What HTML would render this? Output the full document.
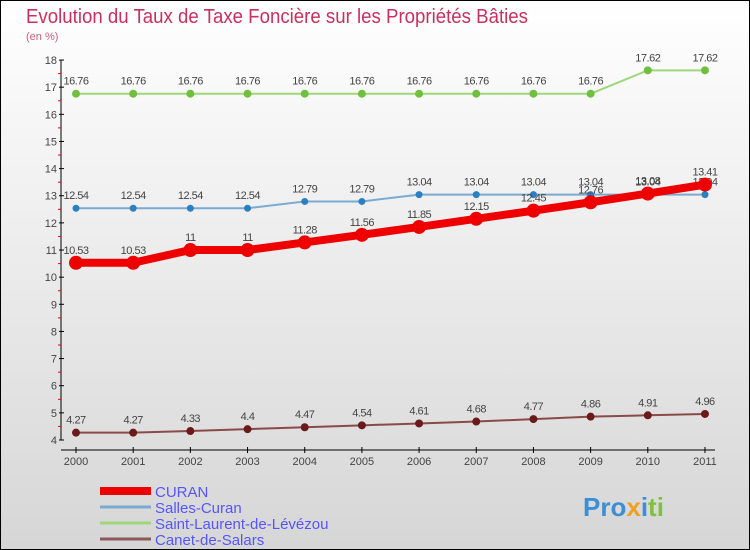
<!DOCTYPE html>
<html><head><meta charset="utf-8"><style>
body{margin:0;width:750px;height:550px;overflow:hidden}
svg{display:block;font-family:"Liberation Sans","DejaVu Sans",sans-serif}
</style></head><body>
<svg id="chart" width="750" height="550" viewBox="0 0 750 550">
<defs><linearGradient id="bg" x1="0" y1="0" x2="0" y2="1"><stop offset="0" stop-color="#ffffff"/><stop offset="1" stop-color="#d6d6d6"/></linearGradient></defs>
<rect x="0.5" y="0.5" width="749" height="549" fill="url(#bg)" stroke="#000"/>
<text x="26" y="23" font-size="20" fill="#c8305e" textLength="502" lengthAdjust="spacingAndGlyphs">Evolution du Taux de Taxe Foncière sur les Propriétés Bâties</text>
<text x="26" y="40" font-size="11" fill="#c8607e">(en %)</text>
<g id="axes"></g><g id="series"></g><g id="legend"></g>
<text x="583" y="516" font-size="26" font-weight="bold"><tspan fill="#3a8fd6">Pro</tspan><tspan fill="#f0a020">x</tspan><tspan fill="#3a8fd6">i</tspan><tspan fill="#80c040">ti</tspan></text>
</svg>
<script>
const years=[2000,2001,2002,2003,2004,2005,2006,2007,2008,2009,2010,2011];
const curan=[10.53,10.53,11,11,11.28,11.56,11.85,12.15,12.45,12.76,13.08,13.41];
const salles=[12.54,12.54,12.54,12.54,12.79,12.79,13.04,13.04,13.04,13.04,13.04,13.04];
const stlaurent=[16.76,16.76,16.76,16.76,16.76,16.76,16.76,16.76,16.76,16.76,17.62,17.62];
const canet=[4.27,4.27,4.33,4.4,4.47,4.54,4.61,4.68,4.77,4.86,4.91,4.96];
const yTicks=[4,5,6,7,8,9,10,11,12,13,14,15,16,17,18];
const NS="http://www.w3.org/2000/svg";
const X=i=>76+i*57.18, Y=v=>440-(v-4)*27.14;
function mk(p,t,a){const e=document.createElementNS(NS,t);for(const k in a)e.setAttribute(k,a[k]);p.appendChild(e);return e;}
const ax=document.getElementById('axes');
let l=mk(ax,'line',{x1:61,y1:Y(18),x2:61,y2:Y(4),stroke:'#000'});


l=mk(ax,'line',{x1:61,y1:450,x2:715,y2:450,stroke:'#000'});


yTicks.forEach(v=>{mk(ax,'line',{x1:59,y1:Y(v),x2:64,y2:Y(v),stroke:'#000'});
 if(v<18)mk(ax,'line',{x1:58,y1:Y(v+0.5),x2:61,y2:Y(v+0.5),stroke:'#e00'});
 const t=mk(ax,'text',{x:57,y:Y(v)+4,'font-size':11,fill:'#444','text-anchor':'end'});t.textContent=v;
 
 });
years.forEach((y,i)=>{mk(ax,'line',{x1:X(i),y1:447,x2:X(i),y2:453,stroke:'#000'});
 const t=mk(ax,'text',{x:X(i),y:465,'font-size':11,fill:'#444','text-anchor':'middle'});t.textContent=y;
 
 });
const sg=document.getElementById('series');
function draw(d,c,w,r,name,dc){
 const g=mk(sg,'g',{});
 
 
 mk(g,'polyline',{points:d.map((v,i)=>X(i)+','+Y(v)).join(' '),fill:'none',stroke:c,'stroke-width':w});
 d.forEach((v,i)=>{const p=mk(g,'circle',{cx:X(i),cy:Y(v),r:r,fill:dc});
  
  
  const t=mk(g,'text',{x:X(i),y:Y(v)-9,'font-size':11,fill:'#444','text-anchor':'middle','letter-spacing':'-0.5'});t.textContent=v;});
}
draw(stlaurent,'#9ed77a',2,4,'series-saint-laurent','#70c040');
draw(salles,'#7aaad0',2,3.5,'series-salles-curan','#2a80c0');
draw(canet,'#8a4a4a',2,4,'series-canet','#6a1a1a');
draw(curan,'#ee0000',8,7,'series-curan','#ee0000');
const lg=document.getElementById('legend');
[['CURAN','#ee0000',8],['Salles-Curan','#7aaad0',3],['Saint-Laurent-de-Lévézou','#9ed77a',3],['Canet-de-Salars','#8a5a5a',3]].forEach((s,i)=>{
 const y=491+i*16;
 const ln=mk(lg,'line',{x1:100,y1:y,x2:151,y2:y,stroke:s[1],'stroke-width':s[2]});
 
 
 const t=mk(lg,'text',{x:155,y:y+6,'font-size':15,fill:'#5555ff'});t.textContent=s[0];
 
 
});
</script>
</body></html>
